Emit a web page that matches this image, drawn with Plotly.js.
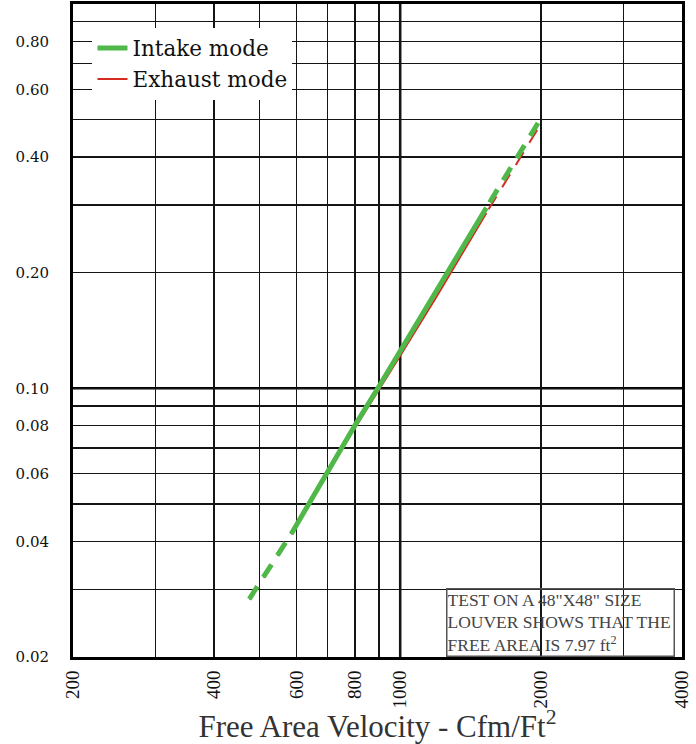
<!DOCTYPE html>
<html>
<head>
<meta charset="utf-8">
<script src="https://cdn.plot.ly/plotly-3.0.1.min.js"></script>
<style>html,body{margin:0;padding:0;background:#fff;}#chart{width:696px;height:744px;}</style>
</head>
<body>
<div id="chart"></div>
<script>
// ---- data ----
const intakeLowX = [476, 585];
const intakeLowY = [0.0283, 0.0418];
const intakeMidX = [585, 700, 800, 900, 1000, 1200, 1528];
const intakeMidY = [0.0418, 0.061, 0.080, 0.101, 0.125, 0.180, 0.295];
const intakeHighX = [1970, 1528];
const intakeHighY = [0.490, 0.295];

const exhaustLowX = [477, 585];
const exhaustLowY = [0.0282, 0.0417];
const exhaustMidX = [585, 700, 800, 900, 1000, 1200, 1528];
const exhaustMidY = [0.0417, 0.0604, 0.0788, 0.0988, 0.1215, 0.1745, 0.286];
const exhaustHighX = [1962, 1528];
const exhaustHighY = [0.470, 0.286];

const xLabelVals = [200, 400, 600, 800, 1000, 2000, 4000];
const xLabels = ["200", "400", "600", "800", "1000", "2000", "4000"];
const xMinorGrid = [300, 500, 700, 900, 3000];
const yLabelVals = [0.02, 0.04, 0.06, 0.08, 0.1, 0.2, 0.4, 0.6, 0.8];
const yLabels = ["0.02", "0.04", "0.06", "0.08", "0.10", "0.20", "0.40", "0.60", "0.80"];
const yMinorGrid = [0.03, 0.05, 0.07, 0.09, 0.3, 0.5, 0.7, 0.9];
const heavyX = 1000;
const heavyY = 0.1;

const seriesNames = ["Intake mode", "Exhaust mode"];
const noteText = 'TEST ON A 48"X48" SIZE<br>LOUVER SHOWS THAT THE<br>FREE AREA IS 7.97 ft<sup>2</sup>';
const xTitle = 'Free Area Velocity - Cfm/Ft<sup>2</sup>';

const GREEN = '#4fb848';
const RED = '#d42a20';
const GRID = '#151515';
const DASH = '15px,11px';

function seg(x, y, color, width, dash, extra) {
  return Object.assign({x: x, y: y, mode: 'lines', line: {color: color, width: width, dash: dash}, hoverinfo: 'skip'}, extra);
}

const traces = [
  seg(exhaustLowX, exhaustLowY, RED, 2, DASH, {showlegend: false, legendgroup: 'e'}),
  seg(exhaustMidX, exhaustMidY, RED, 2, 'solid', {name: seriesNames[1], legendgroup: 'e', legendrank: 2}),
  seg(exhaustHighX, exhaustHighY, RED, 2, DASH, {showlegend: false, legendgroup: 'e'}),
  seg(intakeLowX, intakeLowY, GREEN, 5, DASH, {showlegend: false, legendgroup: 'i'}),
  seg(intakeMidX, intakeMidY, GREEN, 5, 'solid', {name: seriesNames[0], legendgroup: 'i', legendrank: 1}),
  seg(intakeHighX, intakeHighY, GREEN, 5, DASH, {showlegend: false, legendgroup: 'i'})
];

const layout = {
  width: 696, height: 744,
  margin: {l: 73, r: 14, t: 4, b: 87},
  paper_bgcolor: '#fff', plot_bgcolor: '#fff',
  font: {family: 'DejaVu Serif', color: '#111', size: 16},
  showlegend: true,
  legend: {
    x: 0.032, y: 0.964, xanchor: 'left', yanchor: 'top',
    bgcolor: '#ffffff', borderwidth: 0,
    font: {family: 'DejaVu Serif', size: 21.5, color: '#111'},
    itemwidth: 30, tracegroupgap: 0, traceorder: 'normal'
  },
  xaxis: {
    type: 'log', range: [Math.log10(200), Math.log10(4000)],
    tickmode: 'array', tickvals: xLabelVals, ticktext: xLabels,
    tickangle: -90, ticks: '', ticklabelstandoff: 3,
    tickfont: {family: 'Liberation Serif', size: 19, color: '#111'},
    showgrid: true, gridcolor: GRID, gridwidth: 1.5,
    minor: {tickmode: 'array', tickvals: xMinorGrid, showgrid: true, gridcolor: GRID, gridwidth: 1.5, ticks: ''},
    showline: true, mirror: true, linecolor: '#000', linewidth: 3,
    zeroline: false,
    title: {text: xTitle, font: {family: 'Liberation Serif', size: 31, color: '#333'}, standoff: 8}
  },
  yaxis: {
    type: 'log', range: [Math.log10(0.02), 0],
    tickmode: 'array', tickvals: yLabelVals, ticktext: yLabels,
    ticks: '', ticklabelstandoff: 18,
    tickfont: {family: 'DejaVu Serif', size: 15, color: '#111'},
    showgrid: true, gridcolor: GRID, gridwidth: 1.5,
    minor: {tickmode: 'array', tickvals: yMinorGrid, showgrid: true, gridcolor: GRID, gridwidth: 1.5, ticks: ''},
    showline: true, mirror: true, linecolor: '#000', linewidth: 3,
    zeroline: false
  },
  shapes: [
    {type: 'line', xref: 'paper', yref: 'y', x0: 0, x1: 1, y0: heavyY, y1: heavyY, line: {color: '#000', width: 2.5}, layer: 'below'},
    {type: 'line', xref: 'x', yref: 'paper', x0: heavyX, x1: heavyX, y0: 0, y1: 1, line: {color: '#000', width: 2.5}, layer: 'below'}
  ],
  annotations: [
    {xref: 'paper', yref: 'paper', x: 0.612, y: 0.0, xanchor: 'left', yanchor: 'bottom',
     text: noteText, align: 'left', showarrow: false, width: 226,
     font: {family: 'Liberation Serif', size: 17.5, color: '#444'},
     bordercolor: '#555', borderwidth: 1.5, borderpad: 0}
  ]
};

Plotly.newPlot('chart', traces, layout, {displayModeBar: false, staticPlot: true});
</script>
</body>
</html>
